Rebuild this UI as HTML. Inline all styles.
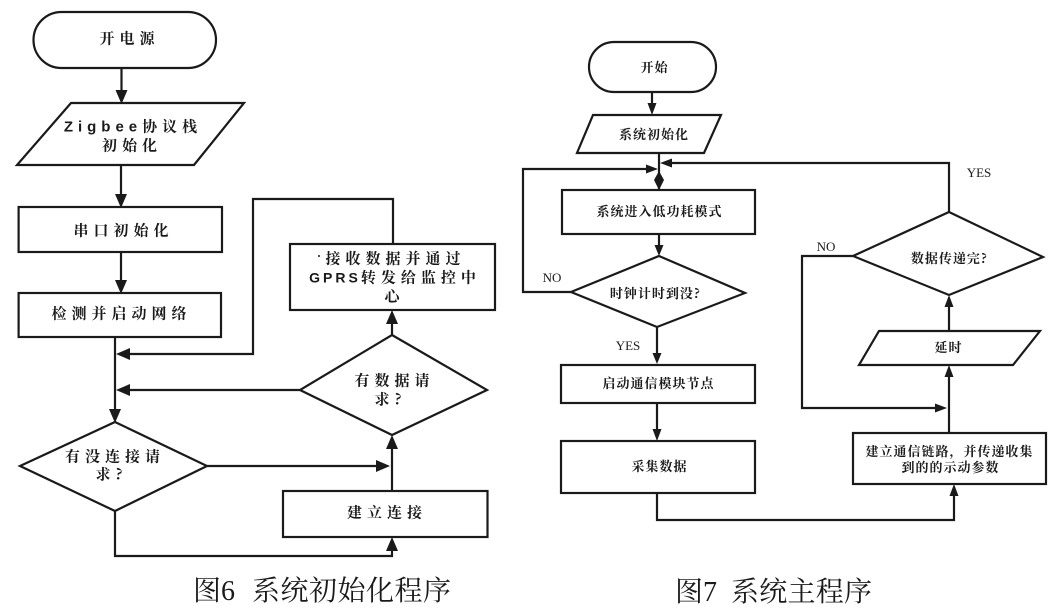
<!DOCTYPE html>
<html><head><meta charset="utf-8"><style>
html,body{margin:0;padding:0;background:#fff;}
svg{display:block;}
.l{font-family:"Noto Serif CJK SC","Liberation Serif",serif;font-size:15px;font-weight:700;letter-spacing:5px;fill:#1a1a1a;}
.r{font-family:"Noto Serif CJK SC","Liberation Serif",serif;font-size:13px;font-weight:700;letter-spacing:1px;fill:#1a1a1a;}
.e{font-family:"Liberation Serif",serif;font-size:13px;fill:#1a1a1a;}
.c{font-family:"Liberation Serif","Noto Serif CJK SC",serif;font-size:28px;fill:#1a1a1a;}
</style></head><body>
<svg width="1059" height="616" viewBox="0 0 1059 616" xmlns="http://www.w3.org/2000/svg">
<rect width="1059" height="616" fill="#fff"/>
<g fill="none" stroke="#1a1a1a" stroke-width="2.2">
<!-- LEFT -->
<rect x="33.5" y="12" width="182.5" height="56" rx="28" ry="28"/>
<polygon points="71,103 244,103 194,165 17,165"/>
<rect x="18.6" y="207" width="203.4" height="45"/>
<rect x="18.6" y="293" width="202.4" height="44"/>
<rect x="290" y="244" width="205" height="66"/>
<rect x="283" y="491" width="204.5" height="46"/>
<polygon points="392,335 487,390 392,435 300,390"/>
<polygon points="115,422 207,466 115,511 20,466"/>
<line x1="121.5" y1="68" x2="121.5" y2="95"/>
<line x1="121" y1="165" x2="121" y2="199"/>
<line x1="121" y1="252" x2="121" y2="285"/>
<line x1="115" y1="337" x2="115" y2="414"/>
<polyline points="393,244 393,199 253,199 253,354 124,354"/>
<line x1="300" y1="390" x2="124" y2="390"/>
<line x1="207" y1="466" x2="382" y2="466"/>
<line x1="392" y1="491" x2="392" y2="443"/>
<line x1="392" y1="335" x2="392" y2="318"/>
<polyline points="115,511 115,556 392,556 392,545"/>
<!-- RIGHT -->
<rect x="589" y="42" width="127" height="50" rx="25" ry="25"/>
<polygon points="593,115 721,115 704,153 577,153"/>
<rect x="562" y="190" width="193" height="44"/>
<polygon points="659,256 745,293 657,327 571,292"/>
<rect x="561" y="365" width="194" height="38"/>
<rect x="561" y="441" width="194" height="52"/>
<polygon points="949,212 1043,257 949,295 853,256"/>
<polygon points="879,331 1040,331 1013,365 859,365"/>
<rect x="853" y="433" width="193" height="51"/>
<line x1="652" y1="92" x2="652" y2="105"/>
<line x1="659" y1="153" x2="659" y2="190"/>
<polyline points="571,292 523,292 523,169 649,169"/>
<polyline points="949,212 949,163 669,163"/>
<line x1="659" y1="234" x2="659" y2="247"/>
<line x1="657" y1="327" x2="657" y2="355"/>
<line x1="657" y1="403" x2="657" y2="431"/>
<polyline points="657,493 657,520 954,520 954,494"/>
<line x1="949" y1="433" x2="949" y2="375"/>
<polyline points="853,256 802,256 802,408 937,408"/>
<line x1="949" y1="331" x2="949" y2="305"/>
</g>
<g fill="#1a1a1a" stroke="none">
<!-- LEFT arrowheads -->
<polygon points="121.5,104 115.5,90 127.5,90"/>
<polygon points="121,208 115,194 127,194"/>
<polygon points="121,294 115,280 127,280"/>
<polygon points="115,423 109,409 121,409"/>
<polygon points="116,354 130,348 130,360"/>
<polygon points="116,390 130,384 130,396"/>
<polygon points="390,466 376,460 376,472"/>
<polygon points="392,435 386,449 398,449"/>
<polygon points="392,310 386,324 398,324"/>
<polygon points="392,537 386,551 398,551"/>
<circle cx="319" cy="256" r="1"/>
<!-- RIGHT arrowheads -->
<polygon points="652,115 647.5,103 656.5,103"/>
<polygon points="659,171 664,180 659,190 654,180"/>
<polygon points="658,169 646,164.5 646,173.5"/>
<polygon points="660,163 672,158.5 672,167.5"/>
<polygon points="659,256 654.5,245 663.5,245"/>
<polygon points="657,364 652.5,353 661.5,353"/>
<polygon points="657,441 652.5,429 661.5,429"/>
<polygon points="954,484 949.5,496 958.5,496"/>
<polygon points="949,365 944.5,377 953.5,377"/>
<polygon points="947,408 935,403.5 935,412.5"/>
<polygon points="949,295 944.5,307 953.5,307"/>
</g>
<!-- LEFT text -->
<text class="l" x="129.5" y="43.5" text-anchor="middle">开电源</text>
<text class="l" x="133" y="131.5" text-anchor="middle" style="font-family:'Liberation Sans','Noto Serif CJK SC',sans-serif;">Zigbee<tspan style="font-family:'Noto Serif CJK SC',serif;">协议栈</tspan></text>
<text class="l" x="132" y="150.5" text-anchor="middle">初始化</text>
<text class="l" x="123.5" y="235.5" text-anchor="middle">串口初始化</text>
<text class="l" x="121.5" y="318.5" text-anchor="middle">检测并启动网络</text>
<text class="l" x="395.5" y="263.5" text-anchor="middle">接收数据并通过</text>
<text class="l" x="395" y="282.5" text-anchor="middle"><tspan style="font-family:'Liberation Sans',sans-serif;font-size:14px;letter-spacing:3px;">GPRS</tspan>转发给监控中</text>
<text class="l" x="394.5" y="301.5" text-anchor="middle">心</text>
<text class="l" x="394.5" y="385.5" text-anchor="middle">有数据请</text>
<text class="l" x="390.5" y="404.5" text-anchor="middle">求?</text>
<text class="l" x="115" y="461.5" text-anchor="middle">有没连接请</text>
<text class="l" x="111.5" y="479.5" text-anchor="middle">求?</text>
<text class="l" x="387" y="517.5" text-anchor="middle">建立连接</text>
<!-- RIGHT text -->
<text class="r" x="654.5" y="72" text-anchor="middle">开始</text>
<text class="r" x="654" y="139" text-anchor="middle">系统初始化</text>
<text class="r" x="659.5" y="216" text-anchor="middle">系统进入低功耗模式</text>
<text class="r" x="655.5" y="298" text-anchor="middle">时钟计时到没?</text>
<text class="r" x="658.5" y="388" text-anchor="middle">启动通信模块节点</text>
<text class="r" x="659.5" y="471" text-anchor="middle">采集数据</text>
<text class="r" x="949.5" y="263" text-anchor="middle">数据传递完?</text>
<text class="r" x="948.5" y="352" text-anchor="middle">延时</text>
<text class="r" x="949.5" y="456" text-anchor="middle">建立通信链路，并传递收集</text>
<text class="r" x="950.5" y="472" text-anchor="middle">到的的示动参数</text>
<text class="e" x="552" y="282" text-anchor="middle">NO</text>
<text class="e" x="826" y="251" text-anchor="middle">NO</text>
<text class="e" x="979" y="177" text-anchor="middle">YES</text>
<text class="e" x="628" y="350" text-anchor="middle">YES</text>
<!-- captions -->
<text class="c" x="193" y="600">图6</text>
<text class="c" x="252" y="600" textLength="199" lengthAdjust="spacing">系统初始化程序</text>
<text class="c" x="675" y="601">图7</text>
<text class="c" x="731" y="601" textLength="141" lengthAdjust="spacing">系统主程序</text>
</svg>
</body></html>
